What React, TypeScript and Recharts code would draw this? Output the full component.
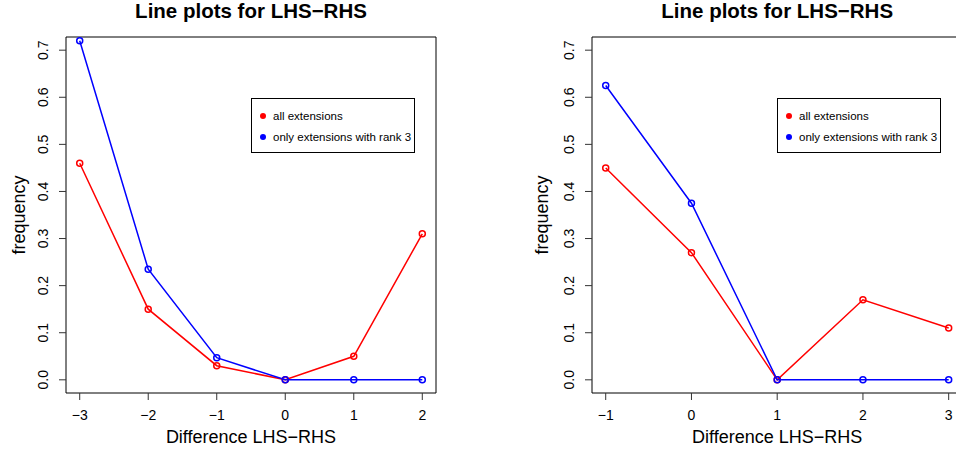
import React from "react";
import { LineChart, Line, XAxis, YAxis, ReferenceArea } from "recharts";

// ---- data ----
const leftX = [-3, -2, -1, 0, 1, 2];
const leftAll = [0.46, 0.15, 0.03, 0.0, 0.05, 0.31];
const leftRank3 = [0.72, 0.235, 0.047, 0.0, 0.0, 0.0];

const rightX = [-1, 0, 1, 2, 3];
const rightAll = [0.45, 0.27, 0.0, 0.17, 0.11];
const rightRank3 = [0.625, 0.375, 0.0, 0.0, 0.0];

const leftXTicks = [-3, -2, -1, 0, 1, 2];
const rightXTicks = [-1, 0, 1, 2, 3];
const yTicks = [0, 0.1, 0.2, 0.3, 0.4, 0.5, 0.6, 0.7];
const leftXDomain = [-3.2, 2.2];
const rightXDomain = [-1.16, 3.16];
const yDomain = [-0.028, 0.728];

const titleText = "Line plots for LHS\u2212RHS";
const xTitle = "Difference LHS\u2212RHS";
const yTitle = "frequency";
const seriesNames = ["all extensions", "only extensions with rank 3"];
const seriesColors = ["#FF0000", "#0000FF"];

const FONT = "'Liberation Sans', Arial, Helvetica, sans-serif";

const fmtX = (v: number) => (v < 0 ? "\u2212" + Math.abs(v) : String(v));

function XTick(props: any) {
  const { x, y, payload } = props;
  return (
    <text x={x} y={y + 15} textAnchor="middle" dominantBaseline="central" fontFamily={FONT} fontSize={14} fill="#000">
      {fmtX(payload.value)}
    </text>
  );
}

function YTick(props: any) {
  const { x, y, payload } = props;
  const tx = x - 16;
  return (
    <text
      x={tx}
      y={y}
      textAnchor="middle"
      dominantBaseline="central"
      fontFamily={FONT}
      fontSize={14}
      fill="#000"
      transform={`rotate(-90, ${tx}, ${y})`}
    >
      {Number(payload.value).toFixed(1)}
    </text>
  );
}

function LegendBox({ left }: { left: number }) {
  return (
    <div
      style={{
        position: "absolute",
        left,
        top: 98,
        width: 162,
        height: 53,
        border: "1px solid #000",
        background: "#fff",
        fontFamily: FONT,
        fontSize: 11.5,
      }}
    >
      {seriesNames.map((n, i) => (
        <div key={n} style={{ position: "absolute", left: 0, top: i === 0 ? 9 : 30, height: 16, display: "flex", alignItems: "center", whiteSpace: "nowrap" }}>
          <span style={{ display: "inline-block", width: 6, height: 6, borderRadius: 3, background: seriesColors[i], marginLeft: 8, marginRight: 7 }} />
          <span>{n}</span>
        </div>
      ))}
    </div>
  );
}

type PanelProps = {
  xs: number[];
  all: number[];
  rank3: number[];
  xTicks: number[];
  xDomain: number[];
  width: number;
  yAxisWidth: number;
  marginRight: number;
  yTitleX: number;
  legendLeft: number;
};

function Panel(p: PanelProps) {
  const data = p.xs.map((x, i) => ({ x, all: p.all[i], rank3: p.rank3[i] }));
  const plotLeft = p.yAxisWidth;
  const plotRight = p.width - p.marginRight;
  const cx = (plotLeft + plotRight) / 2;
  return (
    <div style={{ position: "relative", width: p.width, height: 457 }}>
      <LineChart width={p.width} height={457} data={data} margin={{ top: 37, right: p.marginRight, bottom: 0, left: 0 }}>
        <XAxis
          dataKey="x"
          type="number"
          domain={p.xDomain}
          ticks={p.xTicks}
          allowDataOverflow
          height={64}
          axisLine={false}
          tickSize={7}
          tickMargin={0}
          tickLine={{ stroke: "#333", strokeWidth: 1 }}
          tick={<XTick />}
          interval={0}
        />
        <YAxis
          type="number"
          domain={yDomain}
          ticks={yTicks}
          allowDataOverflow
          width={p.yAxisWidth}
          axisLine={false}
          tickSize={7}
          tickMargin={0}
          tickLine={{ stroke: "#333", strokeWidth: 1 }}
          tick={<YTick />}
          interval={0}
        />
        <ReferenceArea
          x1={p.xDomain[0]}
          x2={p.xDomain[1]}
          y1={yDomain[0]}
          y2={yDomain[1]}
          fill="none"
          fillOpacity={0}
          stroke="#000"
          strokeWidth={1}
          ifOverflow="visible"
        />
        <Line dataKey="all" stroke={seriesColors[0]} strokeWidth={1.5} isAnimationActive={false}
          dot={{ r: 3, fill: "none", stroke: seriesColors[0], strokeWidth: 1.5 }} activeDot={false} />
        <Line dataKey="rank3" stroke={seriesColors[1]} strokeWidth={1.5} isAnimationActive={false}
          dot={{ r: 3, fill: "none", stroke: seriesColors[1], strokeWidth: 1.5 }} activeDot={false} />
      </LineChart>
      <LegendBox left={p.legendLeft} />
      <svg width={p.width} height={457} style={{ position: "absolute", left: 0, top: 0, pointerEvents: "none" }}>
        <text x={cx} y={18} textAnchor="middle" fontFamily={FONT} fontSize={20.5} fontWeight="bold" fill="#000">
          {titleText}
        </text>
        <text x={cx} y={437} textAnchor="middle" dominantBaseline="central" fontFamily={FONT} fontSize={18} fill="#000">
          {xTitle}
        </text>
        <text
          x={p.yTitleX}
          y={215}
          textAnchor="middle"
          dominantBaseline="central"
          fontFamily={FONT}
          fontSize={18}
          fill="#000"
          transform={`rotate(-90, ${p.yTitleX}, 215)`}
        >
          {yTitle}
        </text>
      </svg>
    </div>
  );
}

export default function App() {
  return (
    <div style={{ position: "absolute", left: 0, top: 0, width: 956, height: 457, overflow: "hidden", background: "#fff" }}>
      <div style={{ position: "absolute", left: 0, top: 0 }}>
        <Panel xs={leftX} all={leftAll} rank3={leftRank3} xTicks={leftXTicks} xDomain={leftXDomain}
          width={478} yAxisWidth={66} marginRight={42} yTitleX={19} legendLeft={251} />
      </div>
      <div style={{ position: "absolute", left: 478, top: 0 }}>
        <Panel xs={rightX} all={rightAll} rank3={rightRank3} xTicks={rightXTicks} xDomain={rightXDomain}
          width={500} yAxisWidth={114} marginRight={15.6} yTitleX={64} legendLeft={299} />
      </div>
    </div>
  );
}
